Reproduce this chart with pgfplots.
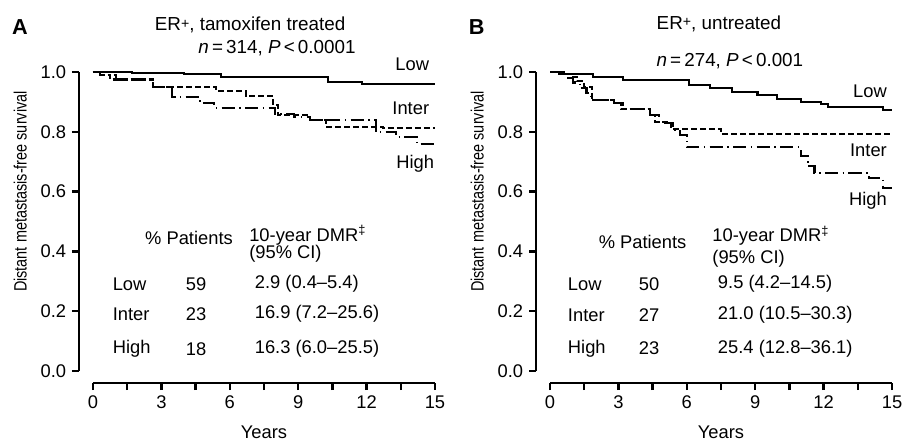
\documentclass[border=0pt]{standalone}
\usepackage{pgfplots}
\pgfplotsset{compat=1.18}
\usepackage{fontspec}
\setmainfont{Liberation Sans}

\newcommand{\tfont}{\fontsize{11}{13}\selectfont}
\newcommand{\hfont}{\fontsize{11.3}{13}\selectfont}

\pgfplotsset{
  km/.style={
    scale only axis, width=205.2pt, height=179.4pt,
    xmin=0, xmax=15, ymin=0, ymax=1,
    axis lines=left,
    axis line style={-, line width=1.5pt},
    axis x line shift=7.2pt, axis y line shift=8.4pt,
    tick align=outside,
    major tick length=4.2pt, minor tick length=4.2pt,
    tick style={black, line width=1.5pt},
    xtick={0,3,6,9,12,15},
    minor xtick={1.5,4.5,7.5,10.5,13.5},
    ytick={0,0.2,0.4,0.6,0.8,1},
    yticklabel style={/pgf/number format/.cd, fixed, fixed zerofill, precision=1},
    /pgf/number format/assume math mode=true,
    tick label style={font=\tfont},
    clip=false,
    xlabel={Years},
    ylabel={Distant metastasis-free survival},
    every axis x label/.style={at={(rel axis cs:0.5,-0.205)}, anchor=center, font=\tfont, inner sep=1pt},
    every axis y label/.style={at={(rel axis cs:-0.213,0.6)}, rotate=90, xscale=0.81, anchor=center, font=\fontsize{10.7}{12}\selectfont},
  },
  lowc/.style={const plot, line width=1.25pt},
  interc/.style={const plot, line width=1.25pt, dash pattern=on 3.6pt off 1.8pt},
  highc/.style={const plot, line width=1.25pt, dash pattern=on 8pt off 2.6pt on 0.9pt off 2.6pt},
}

\begin{document}
\begin{tikzpicture}
\useasboundingbox (-55.8pt,-42.6pt) rectangle (485.4pt,222.6pt);

% panel A
\begin{axis}[km, at={(0pt,0pt)}, anchor=south west]
\addplot[lowc] coordinates {(0,1) (1.7,0.997) (4.0,0.993) (5.6,0.982) (10.3,0.968) (11.8,0.96) (15,0.96)};
\addplot[interc] coordinates {(0,1) (0.2,0.99) (0.75,0.975) (2.65,0.95) (5.4,0.937) (6.7,0.92) (7.9,0.89) (8.1,0.856) (9.5,0.84) (10.2,0.817) (12.7,0.812) (15,0.812)};
\addplot[highc] coordinates {(0,1) (0.3,0.99) (1.0,0.975) (2.65,0.95) (3.45,0.917) (4.7,0.896) (5.3,0.88) (8.0,0.86) (8.8,0.85) (9.5,0.84) (12.4,0.80) (13.3,0.784) (14.2,0.76) (15,0.76)};

\node[font=\bfseries\fontsize{13}{15}\selectfont] at (axis cs:-3.2,1.152) {A};
\node[font=\hfont] at (axis cs:6.89,1.157) {ER{\raisebox{0.25ex}{\fontsize{8.5}{9}\selectfont+}}, tamoxifen treated};
\node[font=\hfont] at (axis cs:8.07,1.079) {\textit{n}\,=\,314, \textit{P}\,<\,0.0001};
\node[font=\tfont, anchor=east] at (axis cs:15.0,1.027) {Low};
\node[font=\tfont, anchor=east] at (axis cs:15.0,0.878) {Inter};
\node[font=\tfont, anchor=east] at (axis cs:15.22,0.692) {High};

\node[font=\tfont] at (axis cs:4.21,0.444) {\% Patients};
\node[font=\tfont, anchor=west, align=left, inner sep=0pt] at (axis cs:6.84,0.426) {10-year DMR\textsuperscript{‡}\\[-2.8pt](95\% CI)};
\node[font=\tfont, anchor=west] at (axis cs:0.61,0.291) {Low};
\node[font=\tfont, anchor=west] at (axis cs:3.82,0.291) {59};
\node[font=\tfont, anchor=west] at (axis cs:6.84,0.291) {2.9 (0.4–5.4)};
\node[font=\tfont, anchor=west] at (axis cs:0.61,0.19) {Inter};
\node[font=\tfont, anchor=west] at (axis cs:3.82,0.19) {23};
\node[font=\tfont, anchor=west] at (axis cs:6.84,0.19) {16.9 (7.2–25.6)};
\node[font=\tfont, anchor=west] at (axis cs:0.61,0.074) {High};
\node[font=\tfont, anchor=west] at (axis cs:3.82,0.074) {18};
\node[font=\tfont, anchor=west] at (axis cs:6.84,0.074) {16.3 (6.0–25.5)};
\end{axis}

% panel B
\begin{axis}[km, at={(274.2pt,0pt)}, anchor=south west]
\addplot[lowc] coordinates {(0,1) (0.6,0.993) (1.9,0.982) (3.2,0.973) (6.1,0.957) (7.0,0.945) (8.0,0.934) (9.1,0.922) (9.95,0.909) (11.0,0.90) (11.9,0.893) (12.2,0.884) (14.6,0.873) (15,0.873)};
\addplot[interc] coordinates {(0,1) (0.5,0.993) (0.9,0.984) (1.2,0.97) (1.5,0.95) (1.85,0.906) (2.8,0.895) (3.1,0.875) (4.4,0.855) (4.6,0.834) (5.3,0.81) (7.5,0.793) (15,0.793)};
\addplot[highc] coordinates {(0,1) (0.4,0.993) (0.8,0.98) (1.0,0.965) (1.3,0.945) (1.6,0.93) (1.8,0.906) (2.8,0.895) (3.2,0.875) (4.4,0.855) (4.8,0.83) (5.4,0.806) (5.7,0.79) (6.0,0.748) (11.0,0.72) (11.3,0.685) (11.6,0.662) (14.0,0.645) (14.6,0.612) (15,0.612)};

\node[font=\bfseries\fontsize{13}{15}\selectfont] at (axis cs:-3.21,1.149) {B};
\node[font=\hfont] at (axis cs:7.41,1.161) {ER{\raisebox{0.25ex}{\fontsize{8.5}{9}\selectfont+}}, untreated};
\node[font=\hfont] at (axis cs:7.89,1.038) {\textit{n}\,=\,274, \textit{P}\,<\,0.001};
\node[font=\tfont, anchor=east] at (axis cs:15.03,0.937) {Low};
\node[font=\tfont, anchor=east] at (axis cs:15.03,0.739) {Inter};
\node[font=\tfont, anchor=east] at (axis cs:15.03,0.57) {High};

\node[font=\tfont] at (axis cs:4.06,0.432) {\% Patients};
\node[font=\tfont, anchor=west, align=left, inner sep=0pt] at (axis cs:7.11,0.415) {10-year DMR\textsuperscript{‡}\\[0.2pt](95\% CI)};
\node[font=\tfont, anchor=west] at (axis cs:0.53,0.291) {Low};
\node[font=\tfont, anchor=west] at (axis cs:3.64,0.291) {50};
\node[font=\tfont, anchor=west] at (axis cs:7.11,0.291) {9.5 (4.2–14.5)};
\node[font=\tfont, anchor=west] at (axis cs:0.53,0.187) {Inter};
\node[font=\tfont, anchor=west] at (axis cs:3.64,0.187) {27};
\node[font=\tfont, anchor=west] at (axis cs:7.11,0.187) {21.0 (10.5–30.3)};
\node[font=\tfont, anchor=west] at (axis cs:0.53,0.076) {High};
\node[font=\tfont, anchor=west] at (axis cs:3.64,0.076) {23};
\node[font=\tfont, anchor=west] at (axis cs:7.11,0.076) {25.4 (12.8–36.1)};
\end{axis}
\end{tikzpicture}
\end{document}
